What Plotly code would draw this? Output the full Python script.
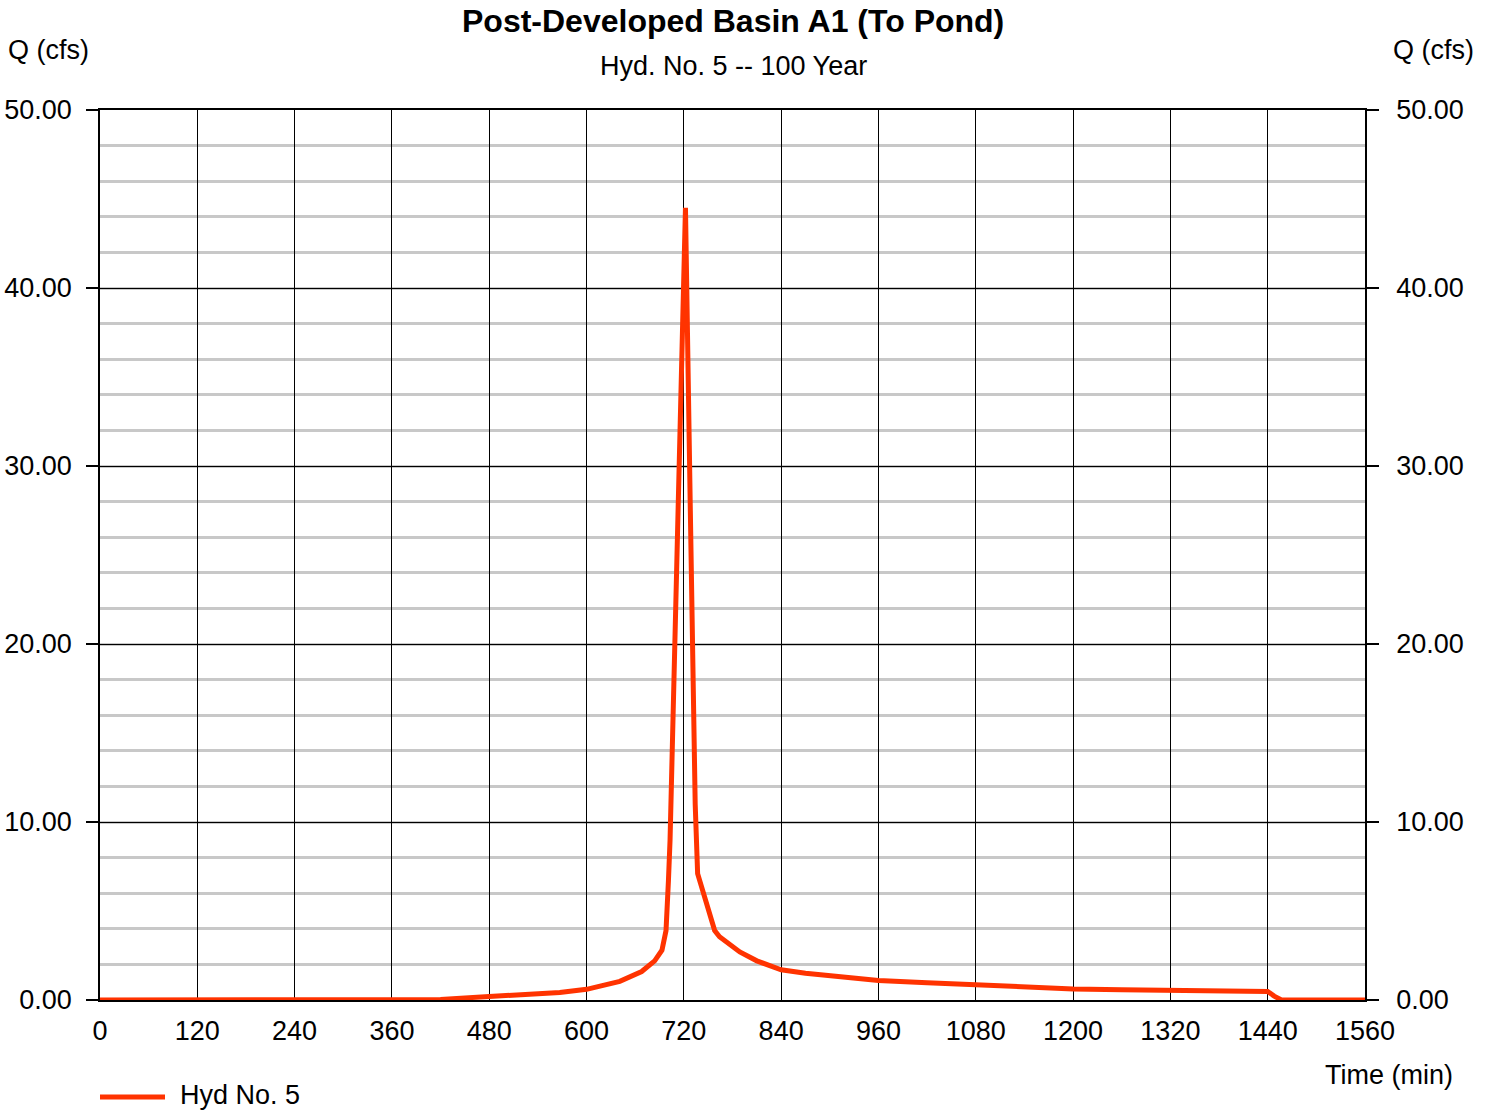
import plotly.graph_objects as go

# ---- data ----
time_min = [0, 360, 400, 420, 480, 540, 567, 600, 620, 641, 668, 684, 693, 698, 701, 703,
            713, 722, 728, 734, 737, 748, 758, 764, 789, 810, 840, 870, 900, 960, 1020,
            1080, 1140, 1200, 1260, 1320, 1380, 1440, 1448, 1457, 1560]
flow_cfs = [0, 0, 0.01, 0.03, 0.2, 0.34, 0.42, 0.6, 0.8, 1.05, 1.6, 2.2, 2.8, 3.9, 6.7, 9.0,
            27.7, 44.5, 27.5, 11.0, 7.1, 5.4, 3.9, 3.55, 2.7, 2.2, 1.7, 1.5, 1.35, 1.1, 0.97,
            0.85, 0.72, 0.62, 0.57, 0.53, 0.5, 0.48, 0.22, 0, 0]

x_ticks = [0, 120, 240, 360, 480, 600, 720, 840, 960, 1080, 1200, 1320, 1440, 1560]
y_ticks = [0, 10, 20, 30, 40, 50]

title_text = "Post-Developed Basin A1 (To Pond)"
subtitle_text = "Hyd. No. 5 -- 100 Year"
series_name = "Hyd No. 5"

FONT = "Liberation Sans, Arial, Helvetica, sans-serif"
RED = "#FF3300"
FS = 27

W, H = 1492, 1110
PL, PT, PW, PH = 100, 110, 1265, 890  # plot area in page pixels


def px(xp):
    return (xp - PL) / PW


def py(yp):
    return (PT + PH - yp) / PH


fig = go.Figure()
fig.add_trace(go.Scatter(x=time_min, y=flow_cfs, mode="lines", name=series_name,
                         line=dict(color=RED, width=5), showlegend=False,
                         hoverinfo="x+y"))
fig.add_trace(go.Scatter(x=time_min, y=flow_cfs, mode="lines", yaxis="y2",
                         line=dict(color="rgba(0,0,0,0)", width=0), showlegend=False,
                         hoverinfo="skip"))

axis_font = dict(family=FONT, size=FS, color="black")

fig.update_layout(
    width=W, height=H,
    margin=dict(l=PL, r=W - PL - PW, t=PT, b=H - PT - PH, autoexpand=False),
    paper_bgcolor="white", plot_bgcolor="white",
    font=dict(family=FONT, size=FS, color="black"),
    xaxis=dict(range=[0, 1560], tickvals=x_ticks, ticktext=[str(v) for v in x_ticks],
               showgrid=True, gridcolor="black", gridwidth=1, automargin=False,
               showline=True, linecolor="black", linewidth=1.5, mirror=True,
               ticks="", tickfont=axis_font, ticklabelstandoff=6, zeroline=False),
    yaxis=dict(range=[0, 50], tickvals=y_ticks, tickformat=".2f", automargin=False,
               showgrid=True, gridcolor="black", gridwidth=1,
               minor=dict(dtick=2, showgrid=True, gridcolor="#c8c8c8", gridwidth=2.5, ticks=""),
               showline=True, linecolor="black", linewidth=1.5,
               ticks="outside", ticklen=12, tickcolor="black", tickwidth=1.5,
               tickfont=axis_font, ticklabelstandoff=9, zeroline=False),
    yaxis2=dict(range=[0, 50], tickvals=y_ticks, tickformat=".2f", overlaying="y", side="right",
                showgrid=False, showline=True, linecolor="black", linewidth=1.5, automargin=False,
                ticks="outside", ticklen=12, tickcolor="black", tickwidth=1.5,
                tickfont=axis_font, ticklabelstandoff=12, zeroline=False),
)

fig.add_annotation(text="<b>" + title_text + "</b>", xref="paper", yref="paper",
                   x=px(733), y=py(21), xanchor="center", yanchor="middle", showarrow=False,
                   font=dict(family=FONT, size=32, color="black"))
fig.add_annotation(text=subtitle_text, xref="paper", yref="paper",
                   x=px(733), y=py(66), xanchor="center", yanchor="middle", showarrow=False,
                   font=dict(family=FONT, size=FS, color="black"))

# axis titles
fig.add_annotation(text="Q (cfs)", xref="paper", yref="paper", x=px(6), y=py(50),
                   xanchor="left", yanchor="middle", showarrow=False, font=dict(family=FONT, size=FS))
fig.add_annotation(text="Q (cfs)", xref="paper", yref="paper", x=px(1476), y=py(50),
                   xanchor="right", yanchor="middle", showarrow=False, font=dict(family=FONT, size=FS))
fig.add_annotation(text="Time (min)", xref="paper", yref="paper", x=px(1455), y=py(1075),
                   xanchor="right", yanchor="middle", showarrow=False, font=dict(family=FONT, size=FS))

# legend (manual)
fig.add_shape(type="line", xref="paper", yref="paper", x0=px(100), x1=px(165), y0=py(1097), y1=py(1097),
              line=dict(color=RED, width=5))
fig.add_annotation(text=series_name, xref="paper", yref="paper", x=px(178), y=py(1095),
                   xanchor="left", yanchor="middle", showarrow=False, font=dict(family=FONT, size=FS))

fig.write_html("out.html", config={"displayModeBar": False},
               post_script="document.body.style.margin='0';document.body.style.padding='0';"
                           "document.body.style.overflow='hidden';")
